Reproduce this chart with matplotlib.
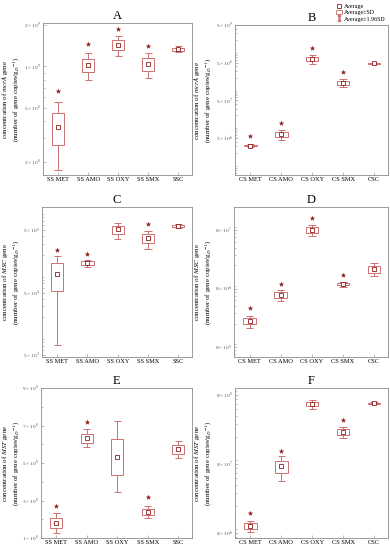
import numpy as np
import matplotlib
matplotlib.use("Agg")
import matplotlib.pyplot as plt
from matplotlib.lines import Line2D
from matplotlib.patches import Rectangle
from matplotlib.ticker import NullFormatter, FixedLocator

plt.rcParams['font.family'] = ['Liberation Serif', 'DejaVu Serif']
plt.rcParams['mathtext.fontset'] = 'stix'

nan = np.nan
ss_cats = ["SS MET", "SS AMO", "SS OXY", "SS SMX", "SSC"]
cs_cats = ["CS MET", "CS AMO", "CS OXY", "CS SMX", "CSC"]

a_mean = [3.60e8, 1.02e9, 1.43e9, 1.04e9, 1.33e9]
a_sd = [0.95e8, 0.115e9, 0.125e9, 0.11e9, 0.035e9]
a_star = [6.6e8, 1.45e9, 1.86e9, 1.41e9, nan]

b_mean = [3.15e6, 6.4e6, 6.27e8, 1.47e8, 4.8e8]
b_sd = [0.12e6, 1.0e6, 0.8e8, 0.18e8, 0.1e8]
b_star = [5.7e6, 1.24e7, 1.2e9, 2.9e8, nan]

c_mean = [9.98e4, 1.47e5, 5.13e5, 3.68e5, 5.8e5]
c_sd = [4.72e4, 0.1e5, 0.75e5, 0.63e5, 0.2e5]
c_star = [2.4e5, 2.07e5, nan, 6.17e5, nan]

d_mean = [2.22e6, 6.19e6, 8.0e7, 9.54e6, 1.72e7]
d_sd = [0.26e6, 0.65e6, 0.85e7, 0.5e6, 2.2e6]
d_star = [3.76e6, 9.44e6, 1.27e8, 1.36e7, nan]

e_mean = [1.78e8, 6.32e8, 5.34e8, 2.40e8, 5.73e8]
e_sd = [0.27e8, 0.25e8, 0.96e8, 0.17e8, 0.23e8]
e_star = [2.72e8, 7.2e8, nan, 3.2e8, nan]

f_mean = [1.01e7, 7.48e7, 5.93e8, 2.33e8, 6.07e8]
f_sd = [1.0e6, 1.5e7, 0.45e8, 2.2e7, 0.1e8]
f_star = [1.54e7, 1.25e8, nan, 3.47e8, nan]

T = "\u2009×\u2009"
a_ticks = [2e8, 5e8, 1e9, 2e9]
a_labels = ["2" + T + "10$^{8}$", "5" + T + "10$^{8}$", "1" + T + "10$^{9}$", "2" + T + "10$^{9}$"]
b_ticks = [5e6, 5e7, 5e8, 5e9]
b_labels = ["5" + T + "10$^{6}$", "5" + T + "10$^{7}$", "5" + T + "10$^{8}$", "5" + T + "10$^{9}$"]
c_ticks = [5e3, 5e4, 5e5]
c_labels = ["5" + T + "10$^{3}$", "5" + T + "10$^{4}$", "5" + T + "10$^{5}$"]
d_ticks = [8e5, 8e6, 8e7]
d_labels = ["8" + T + "10$^{5}$", "8" + T + "10$^{6}$", "8" + T + "10$^{7}$"]
e_ticks = [1e8, 3e8, 5e8, 7e8, 9e8]
e_labels = ["1" + T + "10$^{8}$", "3" + T + "10$^{8}$", "5" + T + "10$^{8}$", "7" + T + "10$^{8}$", "9" + T + "10$^{8}$"]
f_ticks = [8e6, 8e7, 8e8]
f_labels = ["8" + T + "10$^{6}$", "8" + T + "10$^{7}$", "8" + T + "10$^{8}$"]

titles = ["A", "B", "C", "D", "E", "F"]
genes = ["mcrA", "mcrA", "MSC", "MSC", "MST", "MST"]

W, H = 390, 550
fig = plt.figure(figsize=(W / 100, H / 100), dpi=100)

BOX = "#cc7070"
DARK = "#8a1c1c"
FRAME = "#8c8c8c"

def px_axes(l, t, r, b):
    return fig.add_axes([l / W, 1 - b / H, (r - l) / W, (b - t) / H])

panels = [
    (px_axes(43, 23, 192, 175), ss_cats, a_mean, a_sd, a_star, (1.61e8, 2.07e9), a_ticks, a_labels, 'log'),
    (px_axes(235, 25, 388, 175), cs_cats, b_mean, b_sd, b_star, (5.2e5, 5e9), b_ticks, b_labels, 'log'),
    (px_axes(42, 207, 192, 357), ss_cats, c_mean, c_sd, c_star, (4.64e3, 1.17e6), c_ticks, c_labels, 'log'),
    (px_axes(234, 207, 388, 357), cs_cats, d_mean, d_sd, d_star, (5.4e5, 1.98e8), d_ticks, d_labels, 'log'),
    (px_axes(41, 388, 192, 538), ss_cats, e_mean, e_sd, e_star, (1e8, 9e8), e_ticks, e_labels, 'linear'),
    (px_axes(235, 388, 388, 538), cs_cats, f_mean, f_sd, f_star, (6.77e6, 1.01e9), f_ticks, f_labels, 'log'),
]

for i, (ax, cats, mean, sd, star, ylim, ticks, labels, scale) in enumerate(panels):
    x = np.arange(len(cats))
    mean = np.array(mean)
    sd = np.array(sd)
    ax.set_yscale(scale)
    ax.vlines(x, mean + sd, mean + 1.96 * sd, color=BOX, lw=0.7)
    ax.vlines(x, mean - 1.96 * sd, mean - sd, color=BOX, lw=0.7)
    ax.hlines(mean + 1.96 * sd, x - 0.12, x + 0.12, color=BOX, lw=0.7)
    ax.hlines(mean - 1.96 * sd, x - 0.12, x + 0.12, color=BOX, lw=0.7)
    ax.bar(x, 2 * sd, bottom=mean - sd, width=0.4, fill=False, edgecolor=BOX, lw=0.7)
    ax.plot(x, mean, ls='none', marker='s', ms=2.6, mfc='white', mec=DARK, mew=0.6)
    ax.plot(x, star, ls='none', marker='*', ms=3.2, color=DARK, mew=0.3)
    ax.set_xlim(-0.5, 4.45)
    ax.set_ylim(*ylim)
    ax.set_xticks(x)
    ax.set_xticklabels(cats, fontsize=4.6)
    ax.yaxis.set_major_locator(FixedLocator(ticks))
    ax.set_yticklabels(labels, fontsize=3.8, color="#555555")
    ax.yaxis.set_minor_formatter(NullFormatter())
    if scale == 'linear':
        ax.yaxis.set_minor_locator(FixedLocator([2e8, 4e8, 6e8, 8e8]))
    ax.tick_params(axis='both', which='both', direction='in', color=FRAME, width=0.4)
    ax.tick_params(axis='both', which='major', length=2, pad=1.5)
    ax.tick_params(axis='y', which='minor', length=1.2)
    for s in ax.spines.values():
        s.set_color(FRAME)
        s.set_linewidth(0.6)
    ax.set_title(titles[i], fontsize=9, pad=3)
    g = genes[i]
    ax.set_ylabel("concentration of $\\it{" + g + "}$ gene\n(number of gene copies/g$_{D}$$^{-1}$)",
                  fontsize=5.0, linespacing=1.25)
    bbox = ax.get_position()
    left_px = bbox.x0 * W
    width_px = bbox.width * W
    target = 22 if left_px < 100 else 214
    ax.yaxis.set_label_coords((target - left_px) / width_px, 0.5)

handles = [
    Line2D([], [], ls='none', marker='s', ms=2.4, mfc='white', mec=DARK, mew=0.6),
    Rectangle((0, 0), 1, 1, fill=False, edgecolor=BOX, lw=0.6),
    Line2D([], [], ls='none', marker=r'$\mathrm{I}$', ms=4, color=BOX),
]
fig.legend(handles, ["Average", "Average±SD", "Average±1.96SD"], loc='upper right',
           bbox_to_anchor=(1.0, 1.0), fontsize=4.3, frameon=False, handlelength=1.0,
           handleheight=0.7, labelspacing=0.15, handletextpad=0.4, borderaxespad=0.3)

fig.savefig("out.png", dpi=100)
